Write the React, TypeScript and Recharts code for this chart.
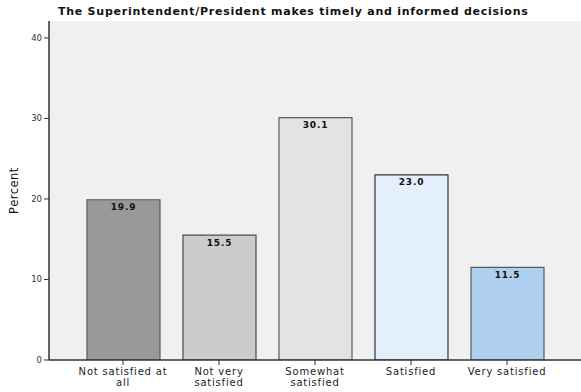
import React from 'react'
import { BarChart, Bar, Cell, XAxis, YAxis, CartesianGrid, LabelList } from 'recharts'

// Response categories and their percentages
const categories = [
  'Not satisfied at all',
  'Not very satisfied',
  'Somewhat satisfied',
  'Satisfied',
  'Very satisfied'
]
const percents = [19.9, 15.5, 30.1, 23.0, 11.5]
const yTicks = [0, 10, 20, 30, 40]

const BAR_COLORS = ['#999999', '#cccccc', '#e3e3e3', '#e3effb', '#aecfee']
const BAR_STROKES = ['#5a5a5a', '#4a4a4a', '#5a5a5a', '#333333', '#5a5a5a']

const FONT = '"DejaVu Sans", Verdana, sans-serif'

const data = categories.map((name, i) => ({ name, value: percents[i] }))

// wrap category names on two lines like the original
const splitLabel = (label: string): string[] => {
  if (label === 'Not satisfied at all') return ['Not satisfied at', 'all']
  if (label === 'Not very satisfied') return ['Not very', 'satisfied']
  if (label === 'Somewhat satisfied') return ['Somewhat', 'satisfied']
  return [label]
}

const CategoryTick = (props: any) => {
  const { x, y, payload } = props
  const lines = splitLabel(payload.value)
  return (
    <g transform={`translate(${x},${y})`}>
      {lines.map((line, i) => (
        <text
          key={i}
          x={0}
          y={8 + i * 10.5}
          textAnchor="middle"
          fontSize={10}
          letterSpacing={0.8}
          fontFamily={FONT}
          fill="#222"
        >
          {line}
        </text>
      ))}
    </g>
  )
}

export default function App() {
  return (
    <div style={{ position: 'absolute', left: 0, top: 0, width: 581, height: 392, background: '#ffffff' }}>
      <svg
        width={581}
        height={20}
        style={{ position: 'absolute', left: 0, top: 0, zIndex: 1 }}
      >
        <text x={58} y={15} fontSize={11} letterSpacing={0.75} fontWeight="bold" fontFamily={FONT} fill="#111">
          The Superintendent/President makes timely and informed decisions
        </text>
      </svg>
      <BarChart
        width={581}
        height={392}
        data={data}
        margin={{ top: 21, right: 0, bottom: 0, left: 0 }}
        barSize={73}
      >
        <CartesianGrid fill="#f0f0f0" horizontal={false} vertical={false} />
        <XAxis
          dataKey="name"
          interval={0}
          padding={{ left: 26, right: 26 }}
          axisLine={{ stroke: '#333', strokeWidth: 1.5 }}
          tickLine={{ stroke: '#333' }}
          tickSize={5}
          tick={<CategoryTick />}
          height={32}
        />
        <XAxis
          xAxisId="top"
          orientation="top"
          dataKey="name"
          height={0}
          tick={false}
          tickLine={false}
          axisLine={{ stroke: '#555', strokeWidth: 1 }}
        />
        <YAxis
          width={49}
          domain={[0, 42.1]}
          ticks={yTicks}
          allowDataOverflow
          axisLine={{ stroke: '#333', strokeWidth: 1.5 }}
          tickLine={{ stroke: '#333' }}
          tickSize={5}
          tick={{ fontSize: 8.5, fontFamily: FONT, fill: '#333' }}
          label={{
            value: 'Percent',
            angle: -90,
            position: 'insideLeft',
            offset: 14,
            style: { fontSize: 11.5, letterSpacing: 0.5, fontFamily: FONT, fill: '#111', textAnchor: 'middle' }
          }}
        />
        <Bar dataKey="value" isAnimationActive={false} strokeWidth={1.2}>
          {data.map((d, i) => (
            <Cell key={d.name} fill={BAR_COLORS[i]} stroke={BAR_STROKES[i]} />
          ))}
          <LabelList
            dataKey="value"
            position="insideTop"
            offset={4}
            formatter={(v: any) => Number(v).toFixed(1)}
            style={{ fontSize: 9, letterSpacing: 0.8, fontWeight: 'bold', fontFamily: FONT, fill: '#111' }}
          />
        </Bar>
      </BarChart>
    </div>
  )
}
